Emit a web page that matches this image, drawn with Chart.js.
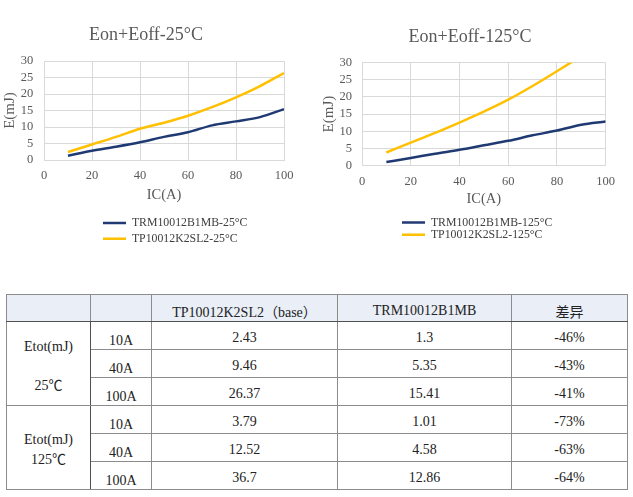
<!DOCTYPE html>
<html>
<head>
<meta charset="utf-8">
<script src="https://cdn.jsdelivr.net/npm/chart.js@4.4.0/dist/chart.umd.min.js"></script>
<style>
  body { margin: 0; width: 633px; height: 497px; overflow: hidden; background: #fff; position: relative; }
  #w1 { position: absolute; left: -24px; top: 0; width: 340px; height: 260px; }
  #w2 { position: absolute; left: 316px; top: 0; width: 308px; height: 260px; }
  #tbl { position: absolute; left: 6px; top: 294px; width: 621px; border-collapse: collapse; table-layout: fixed;
         font-family: "Liberation Serif", "Noto Sans CJK SC", serif; font-size: 14px; color: #222;
         border: 1px solid #404040; }
  #tbl td { border: 1px solid #8c8c8c; text-align: center; vertical-align: middle; padding: 4px 0 0 0; height: 27px; box-sizing: border-box; white-space: nowrap; }
  #tbl tr.head td { background: #e9eef7; border-bottom: 1px solid #505050; padding-top: 6px; }
  #tbl td.grp { border-right: 1px solid #505050; line-height: 19.6px; padding-top: 4px; }
  #tbl td.amp { padding-top: 10px; }
  #tbl tr.sep td { border-top: 1px solid #505050; }
  #tbl td.cjk { font-family: "Noto Sans CJK SC"; font-size: 14px; padding-top: 2px; }
</style>
</head>
<body>
<div id="w1"><canvas id="chart25"></canvas></div>
<div id="w2"><canvas id="chart125"></canvas></div>
<table id="tbl"></table>

<script>
// chart data (10/40/100 A values from the table)
var ic = [10, 20, 30, 40, 50, 60, 70, 80, 90, 100];
var trm25 = [1.3, 2.8, 4.0, 5.35, 7.0, 8.4, 10.5, 11.7, 13.0, 15.41];
var tp25 = [2.43, 4.7, 7.0, 9.46, 11.3, 13.4, 16.0, 19.0, 22.4, 26.37];
var trm125 = [1.01, 2.2, 3.45, 4.58, 5.9, 7.2, 8.8, 10.2, 11.9, 12.86];
var tp125 = [3.79, 6.7, 9.5, 12.52, 15.7, 19.2, 23.2, 27.5, 32.0, 36.7];

// table data
var headers = ['', '', 'TP10012K2SL2（base）', 'TRM10012B1MB', '差异'];
var groupLabels = ['Etot(mJ)<br><br>25℃', 'Etot(mJ)<br>125℃'];
var currents = ['10A', '40A', '100A'];
var baseVals = [['2.43', '9.46', '26.37'], ['3.79', '12.52', '36.7']];
var trmVals = [['1.3', '5.35', '15.41'], ['1.01', '4.58', '12.86']];
var diffVals = [['-46%', '-43%', '-41%'], ['-73%', '-63%', '-64%']];

var NAVY = '#1f3a73';
var GOLD = '#ffc000';
var GRID = '#d9d9d9';
var TXT = '#595959';

Chart.defaults.font.family = 'Liberation Serif';
Chart.defaults.color = TXT;

function pts(xs, ys) {
    var out = [];
    for (var i = 0; i < xs.length; i++) {
        out.push({x: xs[i], y: ys[i]});
    }
    return out;
}

// moves the wrapped legend rows sideways, the way the spreadsheet placed them
var legendShift = {
    id: 'legendShift',
    afterLayout: function(chart, args, opts) {
        chart.legend.left += opts.dx;
        chart.legend.right += opts.dx;
    }
};

function renderChart(id, s) {
    var ctx = document.getElementById(id).getContext('2d');
    return new Chart(ctx, {
        type: 'line',
        plugins: [legendShift],
        data: {
            datasets: [
                {
                    label: s.labels[0],
                    data: pts(ic, s.trm),
                    borderColor: NAVY,
                    backgroundColor: NAVY,
                    borderWidth: 2.5,
                    pointRadius: 0,
                    cubicInterpolationMode: 'monotone',
                    clip: 0,
                },
                {
                    label: s.labels[1],
                    data: pts(ic, s.tp),
                    borderColor: GOLD,
                    backgroundColor: GOLD,
                    borderWidth: 2.5,
                    pointRadius: 0,
                    cubicInterpolationMode: 'monotone',
                    clip: 0,
                },
            ],
        },
        options: {
            responsive: true,
            maintainAspectRatio: false,
            animation: false,
            layout: { padding: { left: 0, right: 0, top: 0, bottom: s.padBottom } },
            scales: {
                x: {
                    type: 'linear', min: 0, max: 100,
                    grid: { color: GRID, drawTicks: false },
                    border: { color: GRID },
                    ticks: { stepSize: 20, padding: s.xTickPad, font: { size: 12.5 }, color: TXT },
                    title: { display: true, text: 'IC(A)', font: { size: 14.5 }, color: TXT,
                             padding: { top: 0, bottom: s.xTitlePad } },
                    afterFit: function(scale) { scale.height = s.xH; },
                },
                y: {
                    min: 0, max: 30,
                    grid: { color: GRID, drawTicks: false },
                    border: { color: GRID },
                    ticks: { stepSize: 5, autoSkip: false, padding: s.yTickPad, font: { size: 12.5 }, color: TXT },
                    title: { display: true, text: 'E(mJ)', font: { size: 15 }, color: TXT,
                             padding: { top: s.yTitlePad, bottom: 0 } },
                    afterFit: function(scale) { scale.width = s.yW; },
                },
                // empty spacer on the right so the title centres on the whole frame
                spacer: {
                    position: 'right', display: true,
                    grid: { display: false }, border: { display: false },
                    ticks: { display: false },
                    afterFit: function(scale) { scale.width = s.padRight; },
                },
            },
            plugins: {
                title: {
                    display: true, text: s.title, color: TXT,
                    font: { size: 18, weight: 'normal' },
                    padding: { top: s.titleTop, bottom: s.titleBottom },
                },
                legend: {
                    position: 'bottom', align: 'start', fullSize: false,
                    labels: {
                        usePointStyle: true, pointStyle: 'line', pointStyleWidth: 23,
                        padding: s.legPad, color: '#404040', font: { size: 11.8 },
                    },
                },
                legendShift: { dx: s.legDx },
                tooltip: { enabled: false },
            },
        },
    });
}

renderChart('chart25', {
    title: 'Eon+Eoff-25°C',
    labels: ['TRM10012B1MB-25°C', 'TP10012K2SL2-25°C'],
    trm: trm25, tp: tp25,
    padRight: 32, padBottom: 5.4,
    titleTop: 24.9, titleBottom: 14.5,
    yW: 68, yTickPad: 10.7, yTitlePad: 24.8,
    xH: 53.4, xTickPad: 8, xTitlePad: 10,
    legPad: 3.8, legDx: 55.2,
});

renderChart('chart125', {
    title: 'Eon+Eoff-125°C',
    labels: ['TRM10012B1MB-125°C', 'TP10012K2SL2-125°C'],
    trm: trm125, tp: tp125,
    padRight: 12, padBottom: 9.3,
    titleTop: 26.9, titleBottom: 14.2,
    yW: 46, yTickPad: 10, yTitlePad: 4.2,
    xH: 50.6, xTickPad: 9, xTitlePad: 7.9,
    legPad: 0.5, legDx: 39.5,
});

// build the comparison table
function buildTable() {
    var t = document.getElementById('tbl');
    var widths = [84, 61, 186, 174, 116];
    var cg = document.createElement('colgroup');
    for (var i = 0; i < widths.length; i++) {
        var c = document.createElement('col');
        c.style.width = widths[i] + 'px';
        cg.appendChild(c);
    }
    t.appendChild(cg);

    var tr = document.createElement('tr');
    tr.className = 'head';
    tr.style.height = '27.4px';
    headers.forEach(function(h) {
        var td = document.createElement('td');
        td.textContent = h;
        if (h === '差异') td.className = 'cjk';
        tr.appendChild(td);
    });
    t.appendChild(tr);

    for (var g = 0; g < 2; g++) {
        for (var r = 0; r < currents.length; r++) {
            var row = document.createElement('tr');
            row.style.height = '28px';
            if (g === 1 && r === 0) row.className = 'sep';
            if (r === 0) {
                var gc = document.createElement('td');
                gc.className = 'grp';
                gc.rowSpan = 3;
                gc.innerHTML = groupLabels[g];
                row.appendChild(gc);
            }
            var cells = [currents[r], baseVals[g][r], trmVals[g][r], diffVals[g][r]];
            cells.forEach(function(v, k) {
                var td = document.createElement('td');
                td.textContent = v;
                if (k === 0) td.className = 'amp';
                row.appendChild(td);
            });
            t.appendChild(row);
        }
    }
}
buildTable();
</script>
</body>
</html>
